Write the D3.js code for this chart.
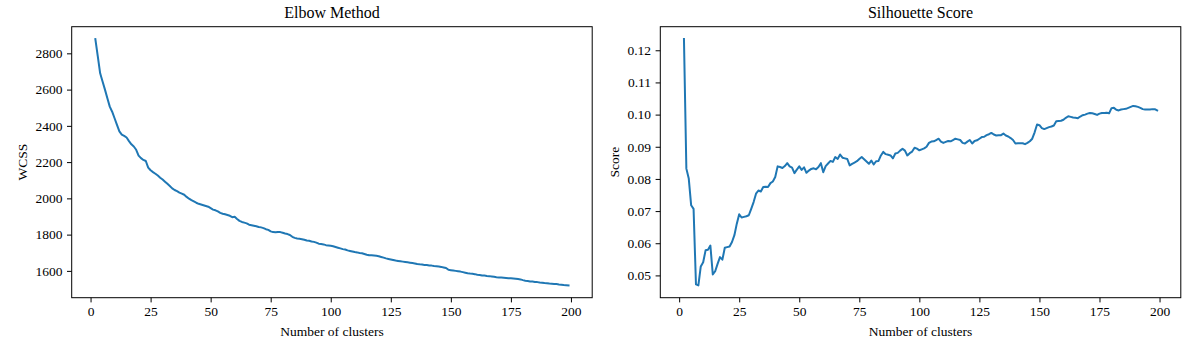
<!DOCTYPE html>
<html>
<head>
<meta charset="utf-8">
<script src="https://cdn.jsdelivr.net/npm/d3@7"></script>
<style>
    body { margin: 0; background: white; }
    text { font-family: 'Liberation Serif', 'Times New Roman', serif; fill: #000; }
</style>
</head>
<body>
<svg id="chart" width="1196" height="356"></svg>
<script>
'use strict';

// cluster counts k = 2 .. 199
var kStart = 2

var wcss = [
    2879, 2785, 2690, 2645, 2600, 2552, 2506, 2478, 2442, 2405,
    2370, 2352, 2345, 2336, 2316, 2298, 2286, 2268, 2236, 2222,
    2212, 2206, 2170, 2155, 2145, 2136, 2126, 2114, 2104, 2092,
    2080, 2068, 2055, 2046, 2040, 2032, 2026, 2020, 2008, 1998,
    1990, 1983, 1976, 1970, 1966, 1962, 1958, 1954, 1946, 1938,
    1934, 1928, 1920, 1915, 1912, 1908, 1904, 1896, 1898, 1886,
    1876, 1870, 1866, 1862, 1855, 1852, 1849, 1846, 1842, 1840,
    1836, 1830, 1826, 1818, 1814, 1813, 1815, 1814, 1810, 1806,
    1803, 1798, 1788, 1782, 1779, 1777, 1775, 1772, 1768, 1766,
    1762, 1760, 1756, 1750, 1748, 1746, 1742, 1740, 1738, 1736,
    1732, 1728, 1724, 1720, 1718, 1713, 1710, 1707, 1704, 1702,
    1699, 1697, 1693, 1689, 1686, 1686, 1685, 1684, 1681, 1677,
    1673, 1669, 1666, 1663, 1660, 1657, 1655, 1653, 1651, 1649,
    1647, 1645, 1643, 1641, 1638, 1636, 1635, 1633, 1632, 1630,
    1629, 1627, 1626, 1624, 1622, 1619, 1616, 1606, 1604, 1602,
    1600, 1598, 1596, 1593, 1590, 1587, 1585, 1584, 1582, 1579,
    1577, 1575, 1574, 1572, 1571, 1569, 1567, 1565, 1564, 1563,
    1562, 1561, 1560, 1559, 1558, 1557, 1555, 1553, 1549, 1546,
    1544, 1542, 1541, 1539, 1538, 1536, 1535, 1533, 1532, 1530,
    1529, 1528, 1527, 1525, 1524, 1522, 1521, 1520
]

var silhouette = [
    .1235, .0832, .0801, .0718, .0707, .0472, .0469, .0528, .0541, .0578,
    .0580, .0593, .0503, .0513, .0536, .0557, .0549, .0586, .0588, .0590,
    .0604, .0625, .0661, .0690, .0680, .0682, .0684, .0687, .0707, .0728,
    .0754, .0764, .0761, .0775, .0776, .0775, .0787, .0792, .0806, .0839,
    .0837, .0834, .0840, .0849, .0839, .0835, .0818, .0829, .0839, .0828,
    .0836, .0819, .0826, .0831, .0833, .0830, .0837, .0849, .0821, .0840,
    .0848, .0856, .0853, .0868, .0862, .0876, .0866, .0864, .0862, .0842,
    .0847, .0851, .0855, .0862, .0868, .0861, .0854, .0847, .0857, .0845,
    .0855, .0856, .0873, .0884, .0877, .0875, .0873, .0864, .0879, .0881,
    .0888, .0894, .0888, .0873, .0880, .0885, .0897, .0894, .0889, .0892,
    .0895, .0900, .0912, .0916, .0917, .0921, .0925, .0916, .0912, .0915,
    .0918, .0917, .0921, .0925, .0923, .0921, .0912, .0910, .0916, .0921,
    .0910, .0918, .0920, .0925, .0930, .0931, .0936, .0939, .0943, .0938,
    .0935, .0936, .0936, .0941, .0935, .0932, .0927, .0921, .0910, .0911,
    .0911, .0911, .0908, .0912, .0917, .0925, .0945, .0969, .0967, .0958,
    .0955, .0958, .0961, .0963, .0966, .0979, .0980, .0981, .0984, .0990,
    .0995, .0993, .0991, .0990, .0989, .0994, .0998, .1000, .1003, .1005,
    .1004, .1002, .0999, .1003, .1005, .1005, .1006, .1004, .1020, .1021,
    .1015, .1013, .1016, .1017, .1018, .1021, .1024, .1027, .1026, .1024,
    .1021, .1017, .1016, .1016, .1016, .1017, .1017, .1013
]

var xTicks = [0, 25, 50, 75, 100, 125, 150, 175, 200]
var wcssTicks = [1600, 1800, 2000, 2200, 2400, 2600, 2800]
var scoreTicks = [0.05, 0.06, 0.07, 0.08, 0.09, 0.10, 0.11, 0.12]

var svg = d3.select('#chart')
var lineColor = '#1f77b4'

function drawPanel(left, values, yTicks, yFmt, title, yLabel, yLabelX) {
    var top = 26.7, w = 520.5, h = 271
    var pts = values.map(function(v, i) { return [kStart + i, v] })

    // matplotlib style 5% margins
    var xr = [kStart, kStart + values.length - 1]
    var xPad = (xr[1] - xr[0]) * 0.05
    var ye = d3.extent(values)
    var yPad = (ye[1] - ye[0]) * 0.05

    var x = d3.scaleLinear().domain([xr[0] - xPad, xr[1] + xPad]).range([0, w])
    var y = d3.scaleLinear().domain([ye[0] - yPad, ye[1] + yPad]).range([h, 0])

    var g = svg.append('g').attr('transform', 'translate(' + left + ',' + top + ')')

    var xAxis = g.append('g').attr('transform', 'translate(0,' + h + ')')
        .call(d3.axisBottom(x).tickValues(xTicks).tickSize(4.7).tickPadding(4).tickFormat(d3.format('d')))
    var yAxis = g.append('g')
        .call(d3.axisLeft(y).tickValues(yTicks).tickSize(4.7).tickPadding(4.5).tickFormat(yFmt))

    ;[xAxis, yAxis].forEach(function(a) {
        a.select('.domain').remove()
        a.selectAll('line').attr('stroke', '#000').attr('stroke-width', 1)
        a.selectAll('text').style('font-family', "'Liberation Serif', serif").style('font-size', '13.5px')
    })

    g.append('path')
        .datum(pts)
        .attr('fill', 'none')
        .attr('stroke', lineColor)
        .attr('stroke-width', 2)
        .attr('stroke-linejoin', 'round')
        .attr('stroke-linecap', 'square')
        .attr('d', d3.line().x(function(d) { return x(d[0]) }).y(function(d) { return y(d[1]) }))

    // frame
    g.append('rect')
        .attr('x', 0).attr('y', 0).attr('width', w).attr('height', h)
        .attr('fill', 'none')
        .attr('stroke', '#000')
        .attr('stroke-width', 1)

    g.append('text')
        .attr('x', w / 2).attr('y', -9)
        .attr('text-anchor', 'middle')
        .style('font-size', '16px')
        .text(title)

    g.append('text')
        .attr('x', w / 2).attr('y', h + 38)
        .attr('text-anchor', 'middle')
        .style('font-size', '13.5px')
        .text('Number of clusters')

    g.append('text')
        .attr('transform', 'translate(' + yLabelX + ',' + (h / 2) + ') rotate(-90)')
        .attr('text-anchor', 'middle')
        .style('font-size', '13.5px')
        .text(yLabel)
}

drawPanel(71.7, wcss, wcssTicks, d3.format('d'), 'Elbow Method', 'WCSS', -44.5)
drawPanel(660.3, silhouette, scoreTicks, d3.format('.2f'), 'Silhouette Score', 'Score', -41.5)
</script>
</body>
</html>
